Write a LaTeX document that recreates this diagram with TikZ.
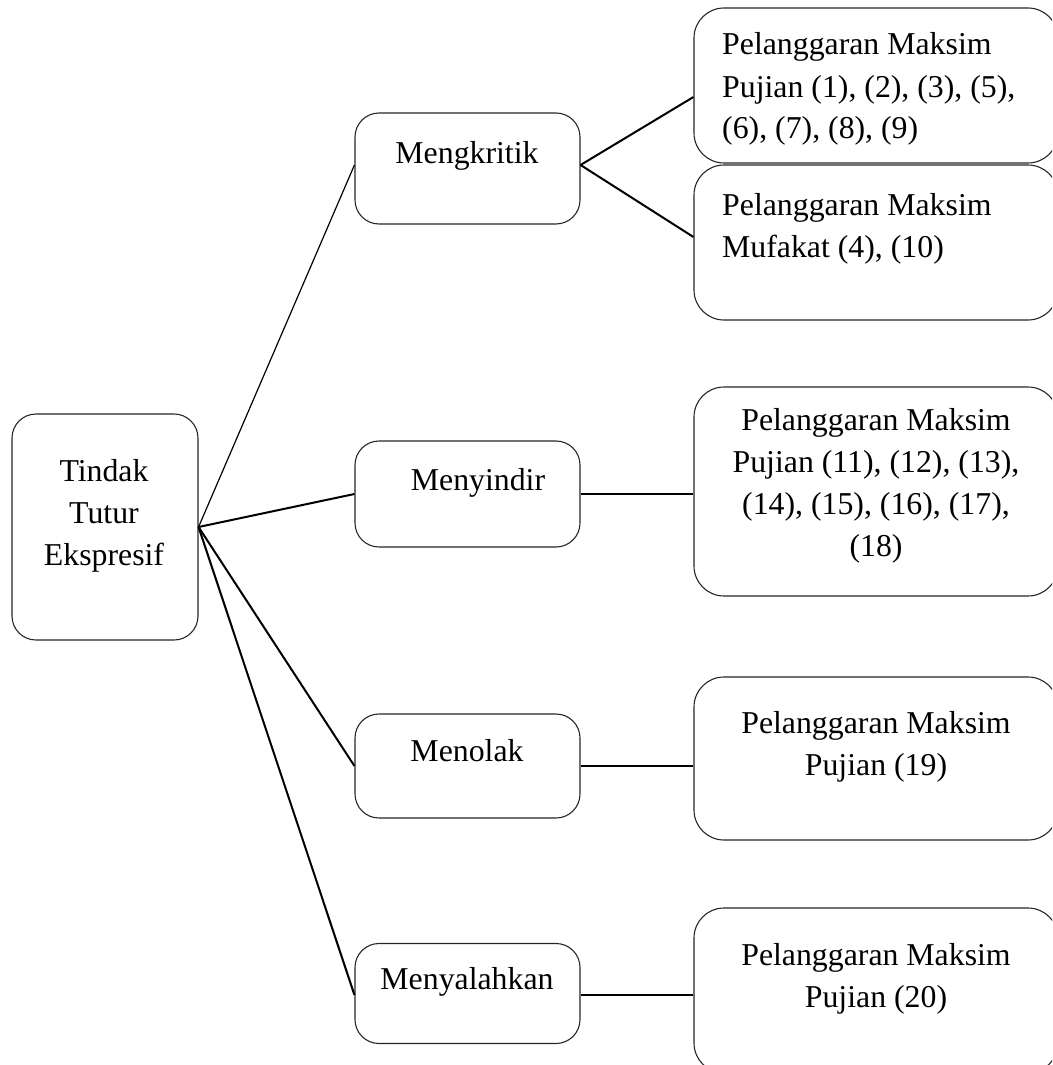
\documentclass[tikz,border=0pt]{standalone}
\usepackage{fontspec}
\setmainfont{Liberation Serif}
\begin{document}
\begin{tikzpicture}[x=1pt,y=-1pt,
  box/.style={draw=black!85,line width=1.1pt,rounded corners=24pt,inner sep=0pt},
  rbox/.style={draw=black!85,line width=1.1pt,rounded corners=30pt,inner sep=0pt},
  txt/.style={inner sep=0pt,font=\fontsize{31.8}{41.5}\selectfont},
  conn/.style={line width=2pt},
  thin conn/.style={line width=1.2pt}]
\useasboundingbox (0,0) rectangle (1052,1065);
\clip (0,0) rectangle (1052,1065);
% boxes
\node[box,minimum width=186pt,minimum height=226pt] (root) at (105,527) {};
\node[box,minimum width=225pt,minimum height=111pt] (krit) at (467.5,168.5) {};
\node[box,minimum width=225pt,minimum height=106pt] (sind) at (467.5,494) {};
\node[box,minimum width=225pt,minimum height=104pt] (tolak) at (467.5,766) {};
\node[box,minimum width=225pt,minimum height=100pt] (salah) at (467.5,993.5) {};
\node[rbox,minimum width=364pt,minimum height=155pt] (r1) at (876,85.5) {};
\node[rbox,minimum width=364pt,minimum height=155pt] (r2) at (876,242.5) {};
\node[rbox,minimum width=364pt,minimum height=209pt] (r3) at (876,491.5) {};
\node[rbox,minimum width=364pt,minimum height=163pt] (r4) at (876,758.5) {};
\node[rbox,minimum width=364pt,minimum height=165pt] (r5) at (876,990.5) {};
% texts
\node[txt,anchor=base] (t1) at (104,481) {Tindak};
\node[txt,anchor=base] (t2) at (104,523) {Tutur};
\node[txt,anchor=base] (t3) at (104,565) {Ekspresif};
\node[txt,anchor=base] (tk) at (467,163) {Mengkritik};
\node[txt,anchor=base] (ts) at (478,490) {Menyindir};
\node[txt,anchor=base] (tt) at (467,761) {Menolak};
\node[txt,anchor=base] (tsl) at (467,989) {Menyalahkan};
\node[txt,anchor=base west] (a1) at (722,55) {Pelanggaran Maksim};
\node[txt,anchor=base west] (a2) at (722,97) {Pujian (1), (2), (3), (5),};
\node[txt,anchor=base west] (a3) at (722,138) {(6), (7), (8), (9)};
\node[txt,anchor=base west] (b1) at (722,215) {Pelanggaran Maksim};
\node[txt,anchor=base west] (b2) at (722,257) {Mufakat (4), (10)};
\node[txt,anchor=base] (c1) at (876,430) {Pelanggaran Maksim};
\node[txt,anchor=base] (c2) at (876,472) {Pujian (11), (12), (13),};
\node[txt,anchor=base] (c3) at (876,514) {(14), (15), (16), (17),};
\node[txt,anchor=base] (c4) at (876,556) {(18)};
\node[txt,anchor=base] (d1) at (876,733) {Pelanggaran Maksim};
\node[txt,anchor=base] (d2) at (876,775) {Pujian (19)};
\node[txt,anchor=base] (e1) at (876,965) {Pelanggaran Maksim};
\node[txt,anchor=base] (e2) at (876,1007) {Pujian (20)};
% connectors
\coordinate (rp) at (root.east);
\draw[thin conn] (rp) -- (krit.west |- 0,165);
\draw[conn] (rp) -- (sind.west);
\draw[conn] (rp) -- (tolak.west);
\draw[conn] (rp) -- (salah.west |- 0,995);
\draw[conn] (krit.east |- 0,165) -- (r1.west |- 0,97);
\draw[conn] (krit.east |- 0,165) -- (r2.west |- 0,237);
\draw[conn] (sind.east) -- (r3.west |- sind.east);
\draw[conn] (tolak.east) -- (r4.west |- tolak.east);
\draw[conn] (salah.east |- 0,995) -- (r5.west |- 0,995);
\end{tikzpicture}
\end{document}
